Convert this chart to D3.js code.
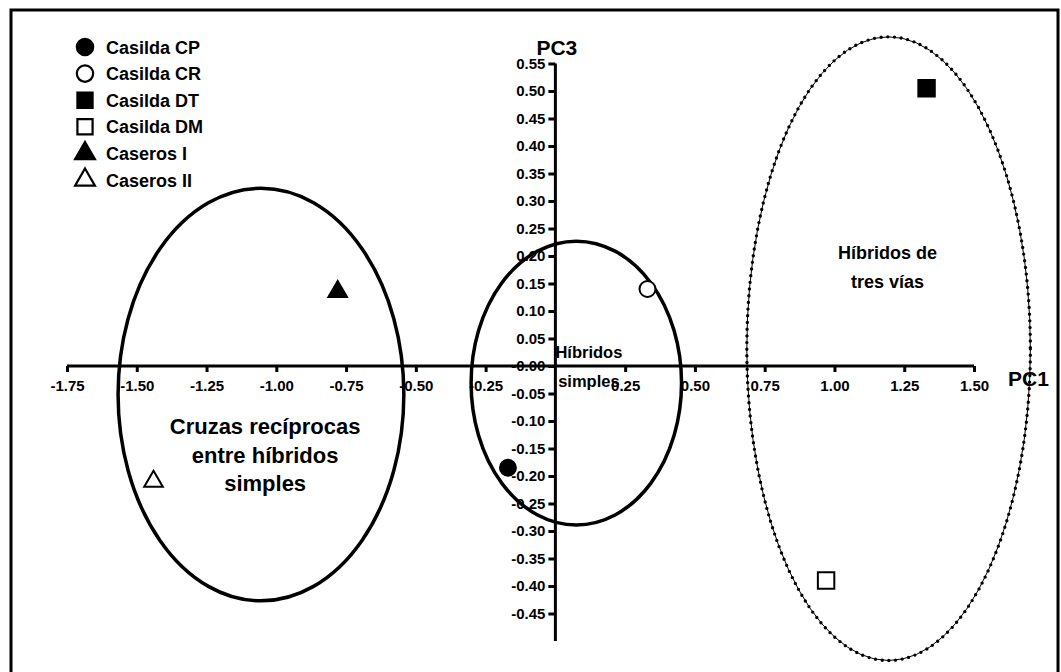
<!DOCTYPE html>
<html>
<head>
<meta charset="utf-8">
<script src="https://cdn.jsdelivr.net/npm/d3@7"></script>
<style>
  body { margin: 0; background: #fff; }
  svg text { font-family: "Liberation Sans", Arial, sans-serif; font-weight: bold; fill: #000; }
</style>
</head>
<body>
<div id="chart_area"></div>
<script>
// data
var seriesNames = ["Casilda CP", "Casilda CR", "Casilda DT", "Casilda DM", "Caseros I", "Caseros II"];
var pc1Values = [-0.17, 0.33, 1.33, 0.97, -0.78, -1.44];
var pc3Values = [-0.185, 0.14, 0.505, -0.39, 0.135, -0.21];
var markerShapes = ["circle", "circle", "square", "square", "triangle", "triangle"];
var markerFilled = [true, false, true, false, true, false];

var xTicks = [-1.75, -1.50, -1.25, -1.00, -0.75, -0.50, -0.25, 0.25, 0.50, 0.75, 1.00, 1.25, 1.50];
var yTicks = [-0.45, -0.40, -0.35, -0.30, -0.25, -0.20, -0.15, -0.10, -0.05, 0.00,
              0.05, 0.10, 0.15, 0.20, 0.25, 0.30, 0.35, 0.40, 0.45, 0.50, 0.55];

// groups : center pc1, center pc3, radius pc1, radius pc3
var groupNames = ["Cruzas recíprocas|entre híbridos|simples", "Híbridos|simples", "Híbridos de|tres vías"];
var groupCx = [-1.055, 0.075, 1.194];
var groupCy = [-0.052, -0.031, 0.0315];
var groupRx = [0.512, 0.377, 0.508];
var groupRy = [0.375, 0.258, 0.567];
var groupLabelX = [-1.04, 0.12, 1.19];
var groupLabelY = [-0.124, 0.0145, 0.194];
var groupFont = [22, 16.5, 18];
var groupDotted = [false, false, true];

var sFrameWidth = 1061;
var sFrameHeight = 672;

var sFrame = d3.select("#chart_area").append("svg")
  .attr("width", sFrameWidth)
  .attr("height", sFrameHeight);

// border
sFrame.append("rect")
  .attr("x", 11).attr("y", 10)
  .attr("width", 1047).attr("height", 680)
  .attr("fill", "none").attr("stroke", "#000").attr("stroke-width", 3);

var x = d3.scaleLinear().domain([-1.75, 1.5]).range([67, 974]);
var y = d3.scaleLinear().domain([-0.5, 0.55]).range([641, 63.5]);

// ellipses
groupNames.forEach(function(g, i) {
  var cx = x(groupCx[i]), cy = y(groupCy[i]);
  var rx = x(groupRx[i]) - x(0), ry = y(0) - y(groupRy[i]);
  if (groupDotted[i]) {
    sFrame.append("ellipse")
      .attr("cx", cx).attr("cy", cy).attr("rx", rx).attr("ry", ry)
      .attr("fill", "none").attr("stroke", "#000").attr("stroke-width", 1);
    sFrame.append("ellipse")
      .attr("cx", cx).attr("cy", cy).attr("rx", rx).attr("ry", ry)
      .attr("fill", "none").attr("stroke", "#000").attr("stroke-width", 3.4)
      .attr("stroke-linecap", "round").attr("stroke-dasharray", "0 6.7");
  } else {
    sFrame.append("ellipse")
      .attr("cx", cx).attr("cy", cy).attr("rx", rx).attr("ry", ry)
      .attr("fill", "none").attr("stroke", "#000").attr("stroke-width", 3.5);
  }
});

// x axis
var xAxis = d3.axisBottom(x).tickValues(xTicks).tickSize(6).tickPadding(8)
  .tickFormat(function(d) { return d.toFixed(2); });
var gx = sFrame.append("g").attr("transform", "translate(0," + y(0) + ")").call(xAxis);
gx.select(".domain").attr("stroke-width", 3).attr("d", "M" + x(-1.75) + ",0H" + x(1.5));
gx.selectAll(".tick line").attr("stroke-width", 3);
gx.selectAll(".tick text").style("font-size", "15px").attr("font-family", null);

// y axis
var yAxis = d3.axisLeft(y).tickValues(yTicks).tickSize(7).tickPadding(3)
  .tickFormat(function(d) { return d === 0 ? "-0.00" : d.toFixed(2); });
var gy = sFrame.append("g").attr("transform", "translate(" + x(0) + ",0)").call(yAxis);
gy.select(".domain").attr("stroke-width", 3).attr("d", "M0," + y(0.55) + "V" + y(-0.5));
gy.selectAll(".tick line").attr("stroke-width", 3);
gy.selectAll(".tick text").style("font-size", "15px").attr("font-family", null);

// axis titles
sFrame.append("text").attr("x", x(0) - 19).attr("y", 55).style("font-size", "21px").text("PC3");
sFrame.append("text").attr("x", 1008).attr("y", 386).style("font-size", "21px").text("PC1");

// group labels
groupNames.forEach(function(g, i) {
  var lines = g.split("|");
  var t = sFrame.append("text")
    .attr("text-anchor", "middle")
    .style("font-size", groupFont[i] + "px");
  lines.forEach(function(l, j) {
    t.append("tspan").attr("x", x(groupLabelX[i])).attr("y", y(groupLabelY[i]) + j * 28.5).text(l);
  });
});

function markerPath(shape, size) {
  var sym = shape === "circle" ? d3.symbolCircle : shape === "square" ? d3.symbolSquare : d3.symbolTriangle;
  return d3.symbol().type(sym).size(size)();
}
var markerSize = { circle: 200, square: 270, triangle: 150 };
var legendSize = { circle: 210, square: 230, triangle: 170 };

// points
sFrame.selectAll(".pt").data(seriesNames).enter().append("path")
  .attr("class", "pt")
  .attr("transform", function(d, i) { return "translate(" + x(pc1Values[i]) + "," + y(pc3Values[i]) + ")"; })
  .attr("d", function(d, i) { return markerPath(markerShapes[i], markerSize[markerShapes[i]]); })
  .attr("fill", function(d, i) { return markerFilled[i] ? "#000" : "#fff"; })
  .attr("stroke", "#000").attr("stroke-width", 2);

// legend
var legend = sFrame.append("g").attr("transform", "translate(85,47)");
seriesNames.forEach(function(name, i) {
  var row = legend.append("g").attr("transform", "translate(0," + (i * 26.6) + ")");
  row.append("path")
    .attr("d", markerPath(markerShapes[i], legendSize[markerShapes[i]]))
    .attr("fill", markerFilled[i] ? "#000" : "#fff")
    .attr("stroke", "#000").attr("stroke-width", 2.2);
  row.append("text").attr("x", 21).attr("y", 6.5).style("font-size", "18px").text(name);
});
</script>
</body>
</html>
